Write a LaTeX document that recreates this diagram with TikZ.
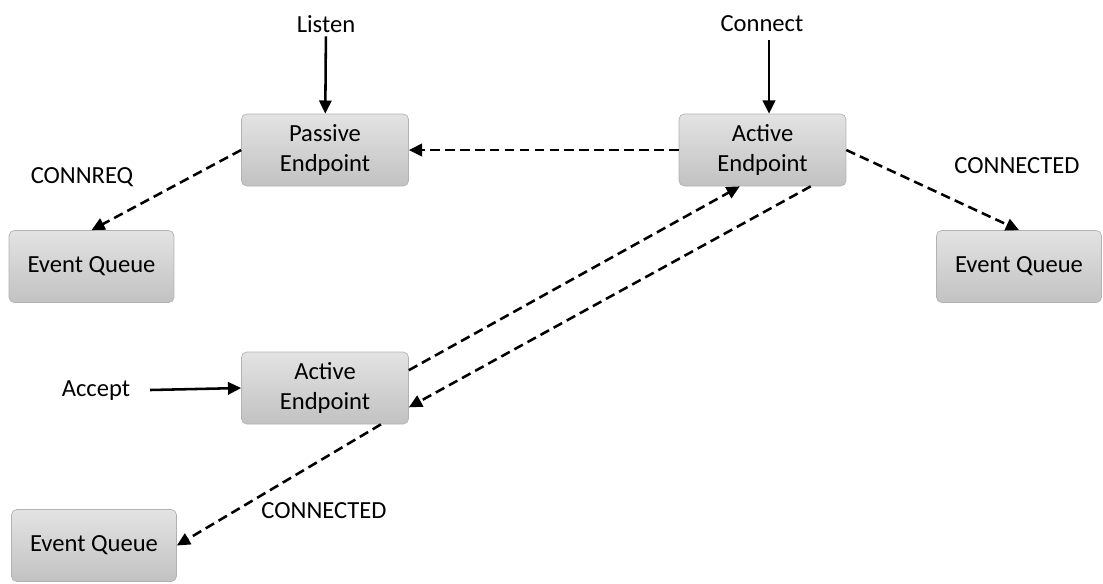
\documentclass[tikz,border=0pt]{standalone}
\usepackage{fontspec}
\setmainfont{Carlito}
\usetikzlibrary{arrows.meta}

\tikzset{
  endpt/.style={draw=gray!60,rounded corners=3pt,top color=gray!22,bottom color=gray!48,
    minimum width=3.34cm,minimum height=1.44cm,align=center,font=\fontsize{14}{17}\selectfont},
  lbl/.style={font=\fontsize{14}{17}\selectfont,inner sep=2pt},
  flow/.style={line width=1.45pt,-{Triangle[length=7.5pt,width=7pt]}},
  msg/.style={flow,dash pattern=on 5.5pt off 3pt}
}

\begin{document}
\begin{tikzpicture}[x=0.02cm,y=-0.02cm]
  \useasboundingbox (0,0) rectangle (1103,583);
  %boxes
  \node[endpt,at={(325,150)}] (pass) {Passive\\Endpoint};
  \node[endpt,at={(762.5,150)}] (act1) {Active\\Endpoint};
  \node[endpt,at={(325,388)}] (act2) {Active\\Endpoint};
  \node[endpt,minimum width=3.3cm,at={(91.5,266.5)}] (eqa) {Event Queue};
  \node[endpt,minimum width=3.3cm,at={(1019,266.5)}] (eqb) {Event Queue};
  \node[endpt,minimum width=3.3cm,at={(94,545.5)}] (eqc) {Event Queue};

  %calls
  \node[lbl,at={(326,24)}] (listen) {Listen};
  \node[lbl,at={(762,24)}] (connect) {Connect};
  \node[lbl,at={(96,391)}] (accept) {Accept};
  \coordinate (cn) at (769,40);
  \coordinate (ac) at (150,390);
  \draw[flow] (listen) -- (pass);
  \draw[flow] (cn) -- (act1.north -| cn);
  \draw[flow] (ac) -- (act2.west);

  %events
  \node[lbl,at={(82,177)}] (connreq) {CONNREQ};
  \node[lbl,at={(1017,166)}] (conntop) {CONNECTED};
  \node[lbl,at={(324,511)}] (connbot) {CONNECTED};
  \draw[msg] (act1.west) -- (pass.east);
  \draw[msg] (pass.west) -- (eqa.north);
  \draw[msg] (act1.east) -- (eqb.north);
  \draw[msg] (act2.12) -- (act1.238);
  \draw[msg] (act1.323) -- (act2.347);
  \draw[msg] (act2.327) -- (eqc.east);
\end{tikzpicture}
\end{document}
